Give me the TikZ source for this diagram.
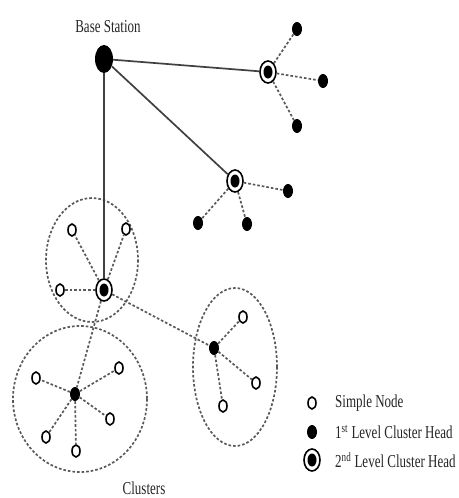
\documentclass[tikz,border=0pt]{standalone}
\usepackage{fontspec}
\setmainfont{Liberation Serif}
\usepackage{graphicx}
\usetikzlibrary{shapes.geometric}
\newcommand{\tallText}[1]{\scalebox{1}[1.4]{#1}}
\tikzset{
  simple/.style={ellipse,draw,line width=1.6pt,fill=white,inner sep=0pt,minimum width=8pt,minimum height=12pt},
  headone/.style={ellipse,fill=black,inner sep=0pt,minimum width=10pt,minimum height=14pt},
  headtwo/.style={ellipse,draw,line width=1.6pt,fill=white,inner sep=0pt,minimum width=16pt,minimum height=22pt,
    path picture={\fill[black] (path picture bounding box.center) ellipse (4.5pt and 6.5pt);}},
  basest/.style={ellipse,fill=black,inner sep=0pt,minimum width=18pt,minimum height=28pt},
  link/.style={black!65,line width=1.7pt,dash pattern=on 2.6pt off 2pt},
  uplink/.style={black!75,line width=1.7pt},
  lbl/.style={font=\fontsize{13}{15}\selectfont,inner sep=0pt,text=black!85},
}
\begin{document}
\begin{tikzpicture}[x=1pt,y=-1pt]
	\useasboundingbox (0,0) rectangle (458,498);
	
	% clusters
	\draw[link] (92,260) ellipse (46 and 62);
	\draw[link] (80,399) ellipse (67 and 73);
	\draw[link] (235,367) ellipse (42 and 79);
	
	\node[basest] (bs) at (104,59) {};
	\node[lbl] at (108,27) {\tallText{Base Station}};
	
	\node[headtwo] (hA) at (268,72) {};
	\node[headtwo] (hB) at (235,181) {};
	\node[headtwo] (hC) at (104,290) {};
	\node[headone] (hD) at (75,394) {};
	\node[headone] (hE) at (214,348) {};
	
	\node[headone] (a1) at (297,29) {};
	\node[headone] (a2) at (323,81) {};
	\node[headone] (a3) at (297,126) {};
	
	\node[headone] (b1) at (288,191) {};
	\node[headone] (b2) at (198,223) {};
	\node[headone] (b3) at (247,224) {};
	
	\node[simple] (c1) at (72,230) {};
	\node[simple] (c2) at (126,229) {};
	\node[simple] (c3) at (60,290) {};
	
	\node[simple] (d1) at (36,378) {};
	\node[simple] (d2) at (119,368) {};
	\node[simple] (d3) at (110,419) {};
	\node[simple] (d4) at (46,437) {};
	\node[simple] (d5) at (76,451) {};
	
	\node[simple] (e1) at (243,317) {};
	\node[simple] (e2) at (256,383) {};
	\node[simple] (e3) at (223,406) {};
	
	% links
	\draw[uplink] (bs) -- (hA);
	\draw[uplink] (bs) -- (hB);
	\draw[uplink] (bs) -- (hC);
	
	\foreach \l in {a1,a2,a3} \draw[link] (hA) -- (\l);
	\foreach \l in {b1,b2,b3} \draw[link] (hB) -- (\l);
	\foreach \l in {c1,c2,c3,hD,hE} \draw[link] (hC) -- (\l);
	\foreach \l in {d1,d2,d3,d4,d5} \draw[link] (hD) -- (\l);
	\foreach \l in {e1,e2,e3} \draw[link] (hE) -- (\l);
	
	\node[lbl] at (144,488) {\tallText{Clusters}};
	
	% legend
	\node[simple] (lsimple) at (312,403) {};
	\node[headone] (lone) at (312,432) {};
	\node[headtwo] (ltwo) at (312,460) {};
	\node[lbl,anchor=west] at (335,403) {\tallText{Simple Node}};
	\node[lbl,anchor=west] at (335,432) {\tallText{1\textsuperscript{st} Level Cluster Head}};
	\node[lbl,anchor=west] at (335,460) {\tallText{2\textsuperscript{nd} Level Cluster Head}};
\end{tikzpicture}
\end{document}
